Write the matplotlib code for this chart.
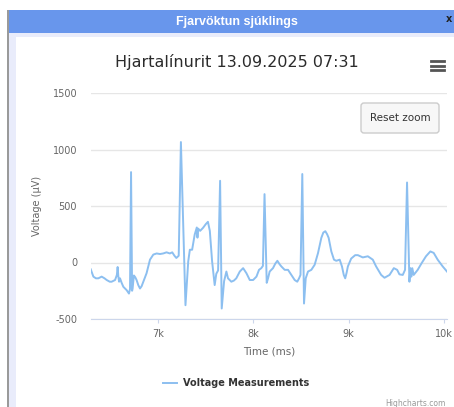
import numpy as np
import matplotlib

matplotlib.use("Agg")
from matplotlib import pyplot as plt
from matplotlib.patches import Rectangle, FancyBboxPatch
from matplotlib.lines import Line2D
from matplotlib.transforms import Affine2D

# ECG trace (time in ms, voltage in uV)
time_ms = [6290, 6318, 6345, 6370, 6405, 6435, 6458, 6490, 6510, 6546,
           6565, 6573, 6580, 6588, 6598, 6615, 6633, 6668, 6692, 6703,
           6714, 6725, 6730, 6744, 6758, 6772, 6790, 6808, 6825, 6843,
           6877, 6913, 6948, 6983, 7018, 7052, 7087, 7122, 7147, 7170,
           7190, 7215, 7238, 7286, 7315, 7332, 7356, 7383, 7405, 7412,
           7420, 7440, 7471, 7500, 7522, 7542, 7566, 7593, 7610, 7629,
           7650, 7667, 7692, 7716, 7733, 7768, 7795, 7820, 7857, 7892,
           7927, 7962, 7997, 8032, 8059, 8083, 8100, 8117, 8140, 8154,
           8171, 8206, 8230, 8252, 8275, 8294, 8329, 8364, 8399, 8434,
           8461, 8480, 8495, 8514, 8532, 8550, 8574, 8609, 8644, 8679,
           8714, 8735, 8756, 8775, 8791, 8819, 8847, 8871, 8907, 8931,
           8950, 8965, 8980, 8993, 9028, 9070, 9098, 9150, 9203, 9255,
           9290, 9343, 9378, 9431, 9476, 9511, 9535, 9570, 9594, 9615,
           9640, 9650, 9660, 9670, 9685, 9727, 9769, 9814, 9860, 9895,
           9937, 9990, 10035]
voltage_uv = [-60, -125, -140, -140, -125, -140, -155, -170, -170, -155,
              -110, -40, -120, -170, -140, -180, -215, -245, -275, -235,
              800, -250, -230, -115, -130, -155, -200, -230, -210, -170,
              -95, 25, 70, 80, 75, 80, 90, 80, 90, 60,
              40, 60, 1066, -378, 10, 113, 113, 247, 310, 220,
              300, 280, 307, 340, 360, 280, 10, -200, -100, -70,
              723, -407, -165, -80, -140, -170, -160, -140, -80, -50,
              -95, -155, -155, -125, -65, -50, -30, 605, -180, -140,
              -80, -50, -10, 15, -15, -35, -65, -65, -110, -155,
              -170, -140, -110, 783, -363, -140, -80, -65, -20, 83,
              218, 265, 277, 250, 218, 98, 25, 15, 25, -35,
              -110, -140, -90, -35, 35, 65, 65, 45, 55, 25,
              -35, -110, -135, -110, -50, -65, -105, -110, -65, 708,
              -170, -50, -125, -50, -110, -65, -5, 55, 98, 85,
              25, -35, -80]

y_ticks = [-500, 0, 500, 1000, 1500]
x_ticks = [7000, 8000, 9000, 10000]
x_tick_labels = ["7k", "8k", "9k", "10k"]

W, H = 454, 407
fig = plt.figure(figsize=(W / 100, H / 100), dpi=100)
fig.patch.set_facecolor("white")

# pixel coords, origin top-left
pxt = Affine2D().scale(1, -1).translate(0, H).scale(1.0 / W, 1.0 / H) + fig.transFigure

# dialog chrome (drawn below the axes)
fig.add_artist(Rectangle((8, 10), W - 8, H - 10, transform=pxt, facecolor="#e9ecfb", edgecolor="none", zorder=-3))
fig.add_artist(Rectangle((7, 10), 1.5, H - 10, transform=pxt, facecolor="#9a9a9a", edgecolor="none", zorder=-2))
fig.add_artist(Rectangle((8.5, 10), W - 8.5, 23, transform=pxt, facecolor="#6896ec", edgecolor="none", zorder=-2))
fig.add_artist(Rectangle((16, 37), W - 16, H - 37, transform=pxt, facecolor="white", edgecolor="none", zorder=-2))
fig.text(237, 21.5, "Fjarvöktun sjúklings", transform=pxt, ha="center", va="center",
         color="white", fontsize=9, fontweight="bold", family="Liberation Sans")
fig.text(446, 19, "x", transform=pxt, ha="left", va="center", color="#222222",
         fontsize=7, fontweight="bold")

# chart title + menu
fig.text(237, 62, "Hjartalínurit 13.09.2025 07:31", transform=pxt, ha="center", va="center",
         color="#2b2b2b", fontsize=11.5)
for yy in (61, 65.5, 70):
    fig.add_artist(Line2D([431, 444], [yy, yy], transform=pxt, color="#555555", lw=2))

ax = fig.add_axes([91 / W, 1 - 319 / H, (447 - 91) / W, (319 - 93) / H])
ax.set_zorder(1)
ax.patch.set_alpha(0)
line, = ax.plot(time_ms, voltage_uv, color="#8cbff0", lw=1.4, solid_joinstyle="round",
                label="Voltage Measurements")
ax.set_xlim(6293, 10035)
ax.set_ylim(-500, 1500)
ax.set_yticks(y_ticks)
ax.set_yticklabels([str(v) for v in y_ticks])
ax.set_xticks(x_ticks)
ax.set_xticklabels(x_tick_labels)
ax.grid(axis="y", color="#e6e6e6", lw=1)
ax.set_axisbelow(True)
for side in ("top", "right", "left"):
    ax.spines[side].set_visible(False)
ax.spines["bottom"].set_color("#ccd6eb")
ax.tick_params(axis="y", length=0, pad=10, labelsize=7, labelcolor="#666666")
ax.tick_params(axis="x", length=3, color="#ccd6eb", pad=4, labelsize=7, labelcolor="#666666")

fig.text(269, 351, "Time (ms)", transform=pxt, ha="center", va="center", color="#666666", fontsize=7.5)
fig.text(37, 206, "Voltage (µV)", transform=pxt, ha="center", va="center", color="#666666",
         fontsize=7, rotation=90)

# reset zoom button
fig.add_artist(FancyBboxPatch((361, 103), 78, 30, transform=pxt,
                              boxstyle="round,pad=0,rounding_size=3",
                              facecolor="#f7f7f7", edgecolor="#cccccc", lw=1, zorder=3))
fig.text(400, 118, "Reset zoom", transform=pxt, ha="center", va="center", color="#333333",
         fontsize=7.5, zorder=4)

leg = fig.legend(handles=[line], loc="center", bbox_to_anchor=(236 / W, 1 - 383 / H),
                 frameon=False, handlelength=1.5, handletextpad=0.6,
                 prop={"size": 7, "weight": "bold"})
for txt in leg.get_texts():
    txt.set_color("#333333")

fig.text(446, 403, "Highcharts.com", transform=pxt, ha="right", va="center", color="#999999", fontsize=5.5)

fig.savefig("out.png", dpi=100)
